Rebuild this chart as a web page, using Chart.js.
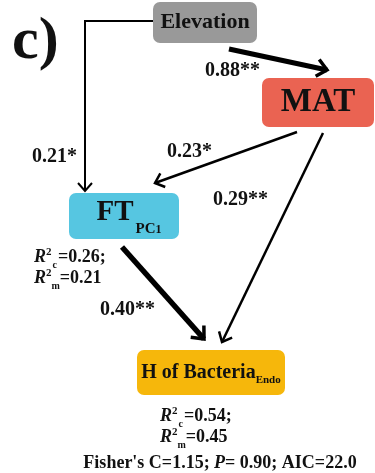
<!DOCTYPE html>
<html>
<head>
<meta charset="utf-8">
<script src="https://cdn.jsdelivr.net/npm/chart.js@4.4.1/dist/chart.umd.min.js"></script>
<style>
  html, body { margin: 0; padding: 0; background: #fff; }
  #wrap { width: 375px; height: 473px; position: relative; }
</style>
</head>
<body>
<div id="wrap"><canvas id="sem"></canvas></div>
<script>
// path model: variables, standardized path coefficients and fit
const variables = ['Elevation', 'MAT', 'FT', 'H of Bacteria'];
const variableSub = ['', '', 'PC1', 'Endo'];
const pathFrom = [0, 0, 1, 1, 2];
const pathTo = [1, 2, 2, 3, 3];
const pathCoef = [0.88, 0.21, 0.23, 0.29, 0.40];
const pathSig = ['**', '*', '*', '**', '**'];
const r2Cond = [null, null, 0.26, 0.54];
const r2Marg = [null, null, 0.21, 0.45];
const fisherC = 1.15;
const fisherP = 0.90;
const modelAIC = 22.0;

// layout in page units (x right, y down)
const boxes = [
  { x: 153, y: 2, w: 104, h: 41, color: '#999999', size: 22 },
  { x: 262, y: 78, w: 112, h: 49, color: '#ea6352', size: 33 },
  { x: 69, y: 193, w: 110, h: 46, color: '#56c6e1', size: 29 },
  { x: 137, y: 350, w: 148, h: 45, color: '#f6b70b', size: 20 }
];
const pathGeom = [
  [[229, 49], [327, 70]],
  [[153, 21], [85, 21], [85, 191]],
  [[297, 132], [155, 183]],
  [[323, 133], [222, 342]],
  [[122, 247], [204, 339]]
];
const pathWidth = [5, 2, 2.5, 2.5, 5.5];
const labelAt = [[205, 71], [32, 157], [167, 152], [213, 200], [100, 310]];
const r2At = [null, null, [34, 257], [160, 416]];

const SERIF = '"Liberation Serif", "Times New Roman", serif';
const font = (size, italic) => (italic ? 'italic ' : '') + 'bold ' + size + 'px ' + SERIF;

// draw a row of differently styled text pieces
function drawRuns(ctx, runs, x, y, align) {
  let total = 0;
  runs.forEach(r => { ctx.font = r.f; r.w = ctx.measureText(r.t).width + (r.gap || 0); total += r.w; });
  let cx = align === 'center' ? x - total / 2 : x;
  ctx.textAlign = 'left';
  ctx.textBaseline = 'middle';
  runs.forEach(r => {
    ctx.font = r.f;
    ctx.fillText(r.t, cx, y + (r.dy || 0));
    cx += r.w;
  });
}

const diagram = {
  id: 'diagram',
  beforeDatasetsDraw(chart) {
    const { ctx, scales: { x, y } } = chart;
    ctx.save();
    boxes.forEach(b => {
      const x0 = x.getPixelForValue(b.x), y0 = y.getPixelForValue(b.y);
      const x1 = x.getPixelForValue(b.x + b.w), y1 = y.getPixelForValue(b.y + b.h);
      ctx.fillStyle = b.color;
      ctx.beginPath();
      ctx.roundRect(x0, y0, x1 - x0, y1 - y0, 7);
      ctx.fill();
    });
    ctx.restore();
  },
  afterDatasetsDraw(chart) {
    const { ctx, scales: { x, y } } = chart;
    ctx.save();
    ctx.strokeStyle = '#000';
    ctx.fillStyle = '#111';

    // open arrowheads at the end of every path
    chart.data.datasets.forEach((ds, i) => {
      const pts = chart.getDatasetMeta(i).data;
      const tip = pts[pts.length - 1], prev = pts[pts.length - 2];
      const a = Math.atan2(tip.y - prev.y, tip.x - prev.x);
      const len = 9 + ds.borderWidth * 0.8, spread = 0.72;
      ctx.lineWidth = Math.min(ds.borderWidth, 3.5);
      ctx.lineJoin = 'miter';
      ctx.lineCap = 'butt';
      ctx.beginPath();
      ctx.moveTo(tip.x - len * Math.cos(a - spread), tip.y - len * Math.sin(a - spread));
      ctx.lineTo(tip.x, tip.y);
      ctx.lineTo(tip.x - len * Math.cos(a + spread), tip.y - len * Math.sin(a + spread));
      ctx.stroke();
    });

    // coefficient labels
    pathCoef.forEach((c, i) => {
      drawRuns(ctx, [{ t: c.toFixed(2) + pathSig[i], f: font(20) }],
        x.getPixelForValue(labelAt[i][0]), y.getPixelForValue(labelAt[i][1]), 'left');
    });

    // variable names in boxes
    boxes.forEach((b, i) => {
      const cx = x.getPixelForValue(b.x + b.w / 2), cy = y.getPixelForValue(b.y + b.h / 2);
      const runs = [{ t: variables[i], f: font(b.size) }];
      if (variableSub[i] === 'PC1') {
        runs.push({ t: ' ', f: font(8) });
        runs.push({ t: 'PC', f: font(15), dy: 16 });
        runs.push({ t: '1', f: font(12), dy: 17 });
        drawRuns(ctx, runs, cx + 5, cy - 3, 'center');
      } else if (variableSub[i]) {
        runs.push({ t: variableSub[i], f: font(11), dy: 8 });
        drawRuns(ctx, runs, cx, cy, 'center');
      } else {
        drawRuns(ctx, runs, cx, cy, 'center');
      }
    });

    // explained variance under endogenous variables
    r2Cond.forEach((rc, i) => {
      if (rc === null) return;
      const px = x.getPixelForValue(r2At[i][0]), py = y.getPixelForValue(r2At[i][1]);
      drawRuns(ctx, [
        { t: 'R', f: font(18, true) },
        { t: '2', f: font(11), dy: -5, gap: 1 },
        { t: 'c', f: font(10), dy: 8, gap: 1 },
        { t: '=' + rc.toFixed(2) + ';', f: font(18) }
      ], px, py, 'left');
      drawRuns(ctx, [
        { t: 'R', f: font(18, true) },
        { t: '2', f: font(11), dy: -5 },
        { t: 'm', f: font(10), dy: 8 },
        { t: '=' + r2Marg[i].toFixed(2), f: font(18) }
      ], px, py + 21, 'left');
    });

    // model fit
    drawRuns(ctx, [
      { t: "Fisher's C=" + fisherC.toFixed(2) + '; ', f: font(18) },
      { t: 'P', f: font(18, true) },
      { t: '= ' + fisherP.toFixed(2) + '; AIC=' + modelAIC.toFixed(1), f: font(18) }
    ], x.getPixelForValue(220), y.getPixelForValue(463), 'center');

    // panel letter
    drawRuns(ctx, [{ t: 'c)', f: font(60) }], x.getPixelForValue(12), y.getPixelForValue(42), 'left');
    ctx.restore();
  }
};

new Chart(document.getElementById('sem'), {
  type: 'scatter',
  data: {
    datasets: pathCoef.map((c, i) => ({
      label: variables[pathFrom[i]] + ' → ' + variables[pathTo[i]],
      data: pathGeom[i].map(p => ({ x: p[0], y: p[1] })),
      showLine: true,
      borderColor: '#000',
      borderWidth: pathWidth[i],
      borderJoinStyle: 'miter',
      pointRadius: 0,
      tension: 0
    }))
  },
  options: {
    responsive: true,
    maintainAspectRatio: false,
    animation: false,
    layout: { padding: 0 },
    plugins: { legend: { display: false }, tooltip: { enabled: false } },
    scales: {
      x: { type: 'linear', min: 0, max: 375, display: false },
      y: { type: 'linear', min: 0, max: 473, reverse: true, display: false }
    }
  },
  plugins: [diagram]
});
</script>
</body>
</html>
